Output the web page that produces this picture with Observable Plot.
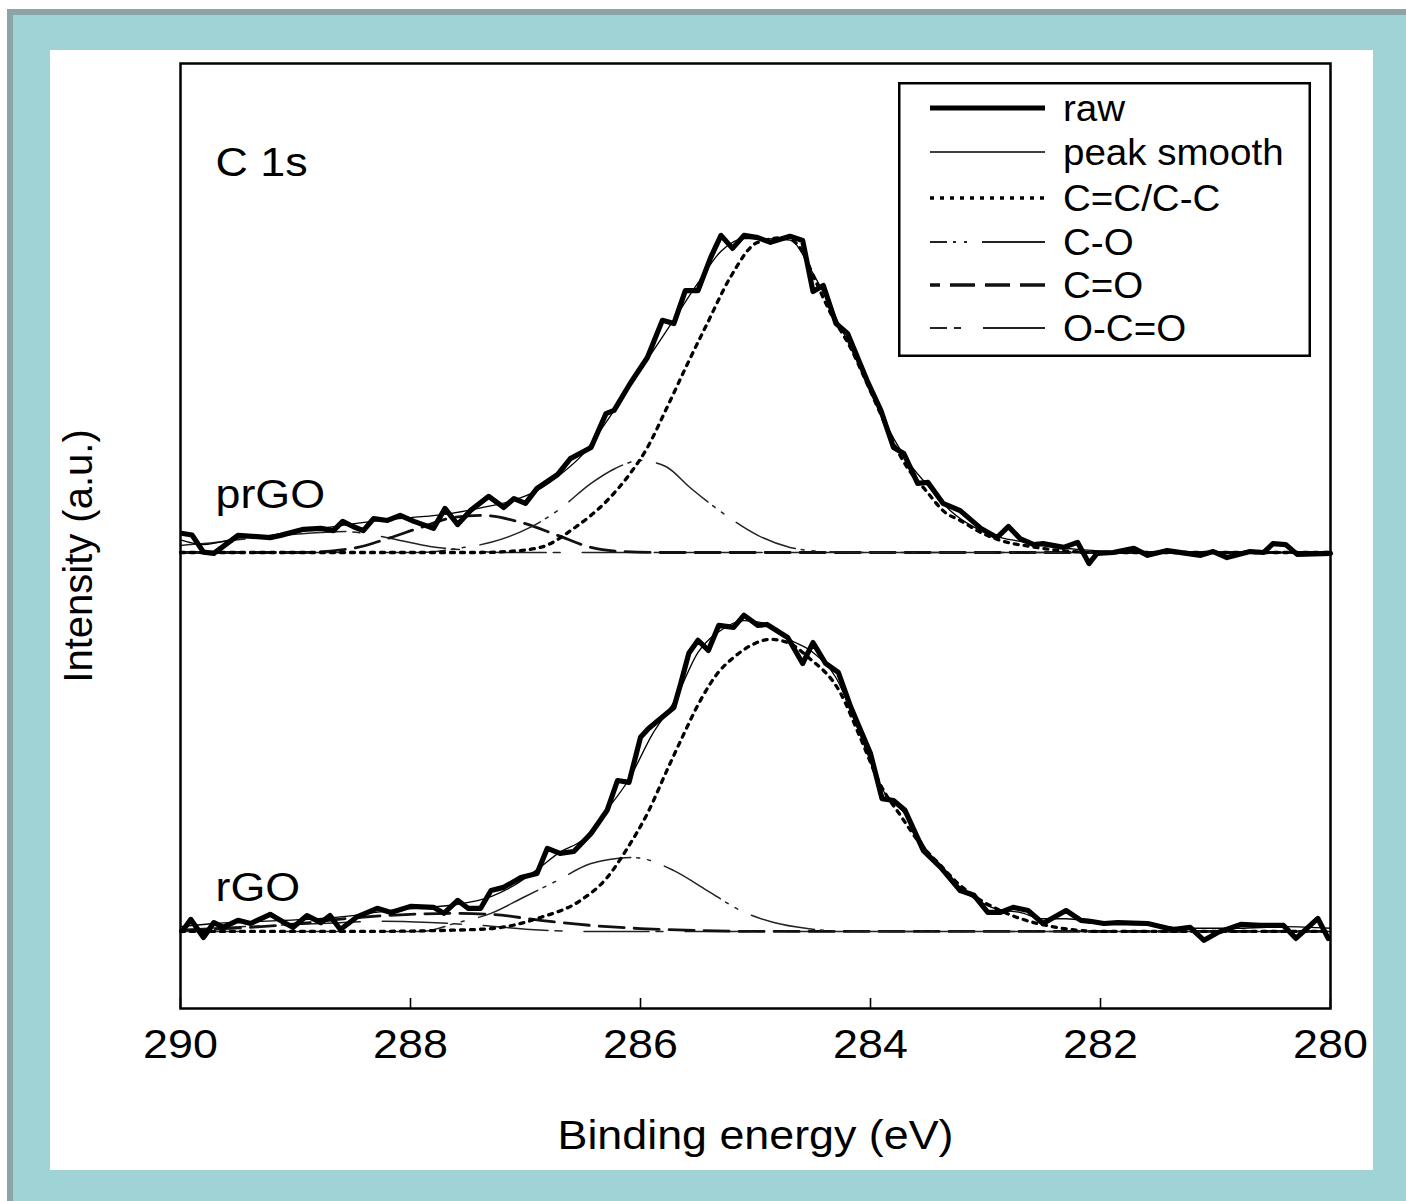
<!DOCTYPE html>
<html><head><meta charset="utf-8">
<script src="https://cdn.jsdelivr.net/npm/d3@7"></script>
<script src="https://cdn.jsdelivr.net/npm/@observablehq/plot@0.6"></script>
<style>
html,body{margin:0;padding:0;background:#fff;width:1406px;height:1201px;overflow:hidden;font-family:"Liberation Sans",Arial,Helvetica,sans-serif;}
#border{position:absolute;left:7px;top:9px;width:1420px;height:1220px;background:#a0d3d6;border-left:6px solid #8aa4a7;border-top:6px solid #8aa4a7;}
#panel{position:absolute;left:50px;top:50px;width:1323px;height:1120px;background:#fff;}
#chart{position:absolute;left:50px;top:50px;}
#legend{position:absolute;left:898px;top:82px;}
</style></head><body>
<div id="border"></div><div id="panel"></div><div id="chart"></div><div id="legend"></div>
<script>
// ---------- data: [binding energy (eV), intensity (a.u., peak ~100)] ----------
const prgoRaw = [[289.98,6.0],[289.90,5.5],[289.80,0.1],[289.71,-0.3],[289.50,5.4],[289.22,4.7],[289.13,5.4],[288.93,7.3],[288.78,7.6],[288.67,6.9],[288.59,9.8],[288.50,8.2],[288.41,6.9],[288.32,10.7],[288.20,10.1],[288.09,11.7],[287.97,9.8],[287.80,7.6],[287.70,13.9],[287.59,8.8],[287.48,13.2],[287.32,17.7],[287.19,14.2],[287.10,17.0],[287.00,15.5],[286.90,20.2],[286.72,24.6],[286.61,29.6],[286.43,33.1],[286.30,43.8],[286.23,44.8],[286.09,53.3],[285.94,61.5],[285.81,73.2],[285.71,72.2],[285.61,82.6],[285.50,82.6],[285.39,93.0],[285.30,100.0],[285.20,95.9],[285.10,100.0],[284.98,99.3],[284.87,97.8],[284.70,99.7],[284.59,98.4],[284.50,82.3],[284.41,84.2],[284.30,72.2],[284.20,69.1],[284.03,54.2],[283.91,44.8],[283.80,33.1],[283.71,31.2],[283.59,21.8],[283.50,22.1],[283.37,15.5],[283.22,13.2],[283.04,7.6],[282.90,4.7],[282.80,8.2],[282.70,4.4],[282.58,2.5],[282.50,2.8],[282.32,1.6],[282.20,3.2],[282.10,-3.5],[282.03,-0.3],[281.89,0],[281.71,1.3],[281.59,-0.9],[281.42,0.6],[281.13,-0.9],[281.02,0.3],[280.90,-1.6],[280.70,0.3],[280.58,0],[280.50,2.8],[280.39,2.5],[280.29,-0.6],[280.00,-0.3]];
const prgoSmooth = [[290.0,4],[289.8,2.5],[289.5,4.5],[289.2,5.5],[288.9,7],[288.6,8.5],[288.3,10],[288.0,11],[287.7,12],[287.4,14],[287.1,16.5],[286.9,19.5],[286.7,24.5],[286.5,31],[286.3,41],[286.1,52],[285.9,63],[285.7,74],[285.5,85],[285.3,95],[285.1,99],[284.9,99],[284.7,98.5],[284.5,88],[284.3,74],[284.1,59],[283.9,43],[283.7,30],[283.5,21],[283.3,13],[283.1,8],[282.9,5],[282.7,3.5],[282.5,2.2],[282.2,1],[281.8,0.3],[281.0,0],[280.0,0]];
const prgoCC = [[290,0],[288,0],[287.39,0],[287.16,0.3],[286.87,1.6],[286.58,7.6],[286.29,16.4],[286.09,24.9],[285.94,33.1],[285.77,45.7],[285.59,59.6],[285.42,72.2],[285.22,86.7],[284.98,97.8],[284.74,99.3],[284.61,95.9],[284.48,85.8],[284.35,75.7],[284.17,64.3],[284.03,53.3],[283.91,43.5],[283.78,33.1],[283.65,25.2],[283.52,19.6],[283.35,12.6],[283.22,10.1],[283.04,6.3],[282.87,3.8],[282.61,1.9],[282.35,0.6],[282.0,0],[280,0]];
const prgoCO = [[290,0],[287.91,0],[287.59,1.3],[287.30,3.2],[286.96,7.9],[286.72,13.2],[286.43,21.8],[286.22,26.5],[286.00,29.0],[285.78,27.1],[285.57,20.5],[285.28,12.3],[284.98,5.4],[284.70,1.6],[284.41,0.3],[284.09,0],[280,0]];
const prgoC_O = [[290,0],[288.96,0],[288.46,1.6],[288.20,4.4],[287.91,7.9],[287.63,11.0],[287.39,11.7],[287.04,9.5],[286.72,5.4],[286.43,1.6],[286.15,0.3],[285.83,0],[280,0]];
const prgoOCO = [[290.0,2.2],[289.80,2.8],[289.48,4.1],[289.13,5.4],[288.78,6.3],[288.57,6.6],[288.35,5.7],[288.09,3.8],[287.83,1.9],[287.57,0.9],[287.22,0],[280,0]];

const rgoRaw = [[289.98,0.3],[289.91,3.8],[289.80,-1.9],[289.71,2.8],[289.63,1.3],[289.50,3.5],[289.39,2.5],[289.22,5.4],[289.10,2.8],[289.02,1.3],[288.90,5.0],[288.78,2.8],[288.70,5.0],[288.61,0.6],[288.46,4.7],[288.29,7.3],[288.17,6.0],[288.00,7.9],[287.80,7.6],[287.71,5.7],[287.59,9.8],[287.50,7.3],[287.39,7.3],[287.30,12.9],[287.19,13.9],[287.04,17.0],[286.90,18.3],[286.81,26.2],[286.70,24.6],[286.58,25.2],[286.43,30.9],[286.29,38.2],[286.20,47.6],[286.10,47.0],[286.00,61.2],[285.93,64.0],[285.71,70.6],[285.65,78.2],[285.58,87.7],[285.50,91.8],[285.41,88.6],[285.32,96.5],[285.19,95.9],[285.10,99.7],[284.98,96.5],[284.90,96.8],[284.72,92.7],[284.59,84.5],[284.50,91.1],[284.39,84.5],[284.28,81.7],[284.17,70.6],[284.06,61.2],[284.00,56.1],[283.90,41.9],[283.80,41.3],[283.70,38.2],[283.54,25.5],[283.39,20.2],[283.22,12.9],[283.10,11.4],[282.98,6.0],[282.87,6.0],[282.76,7.6],[282.63,6.6],[282.50,2.5],[282.30,6.6],[282.17,3.5],[282.09,3.2],[281.97,2.5],[281.85,2.8],[281.59,2.5],[281.37,0.6],[281.22,1.3],[281.10,-2.8],[280.98,-0.3],[280.78,2.2],[280.61,1.9],[280.41,1.9],[280.30,-2.2],[280.11,4.1],[280.02,-2.2]];
const rgoSmooth = [[290.0,1.5],[289.7,2.5],[289.4,3],[289.1,3.5],[288.8,4],[288.5,5],[288.2,6.5],[287.9,7.5],[287.6,8.5],[287.3,11],[287.1,14.5],[286.9,19.5],[286.7,25],[286.5,29],[286.3,38],[286.1,48],[285.9,62],[285.7,73],[285.5,88],[285.3,95],[285.1,98],[284.9,97],[284.7,92],[284.5,88],[284.3,80],[284.1,63],[283.9,45],[283.7,37],[283.5,25],[283.3,16],[283.1,10.5],[282.9,7],[282.7,6],[282.5,4],[282.3,4],[282.0,2.5],[281.6,2],[281.2,1],[280.8,1],[280.4,1.5],[280.0,1]];
const rgoCC = [[290,0],[288.43,0],[287.74,0.3],[287.30,0.9],[286.87,4.4],[286.52,9.8],[286.29,17.0],[286.11,26.5],[285.94,37.2],[285.77,50.8],[285.65,60.2],[285.48,72.8],[285.33,81.4],[285.19,86.4],[285.04,90.2],[284.87,92.1],[284.70,90.8],[284.55,86.7],[284.26,75.1],[284.09,61.2],[283.91,46.0],[283.74,36.6],[283.57,27.8],[283.39,20.8],[283.22,14.5],[283.04,9.8],[282.87,6.6],[282.70,4.1],[282.43,1.6],[282.0,0],[280,0]];
const rgoCO = [[290,0],[287.91,0],[287.59,2.8],[287.30,5.7],[287.02,10.7],[286.72,16.1],[286.43,21.4],[286.06,23.3],[285.71,19.2],[285.42,12.9],[285.13,6.6],[284.84,2.8],[284.55,0.9],[284.17,0],[280,0]];
const rgoC_O = [[290.0,0.3],[289.39,1.3],[288.96,2.5],[288.46,4.4],[288.00,5.4],[287.65,5.7],[287.30,5.4],[286.87,3.5],[286.43,1.9],[286.00,0.9],[285.48,0.3],[284.96,0],[280,0]];
const rgoOCO = [[290.0,0.6],[289.39,1.6],[288.78,2.5],[288.26,3.2],[287.83,2.8],[287.39,1.9],[286.96,0.6],[286.52,0],[280,0]];

const sampleNames = ["prGO", "rGO"];
const sampleOffsets = [119.5, 0];
const xTicks = [290, 288, 286, 284, 282, 280];
const legendLabels = ["raw", "peak smooth", "C=C/C-C", "C-O", "C=O", "O-C=O"];
const panelTitle = "C 1s";
const xLabel = "Binding energy (eV)";
const yLabel = "Intensity (a.u.)";

// ---------- layout & styles ----------
const W = 1323, H = 1120;
const M = {left: 130, right: 43, top: 13, bottom: 162};
const xDomain = [290, 280];
const yDomain = [-24.3, 273.7];
const pxPerUnit = (H - M.top - M.bottom) / (yDomain[1] - yDomain[0]);
const tickLen = 10 / pxPerUnit;
const FONT = "'Liberation Sans', Arial, Helvetica, sans-serif";

const st = {
  raw:    {stroke: "#000", strokeWidth: 5.2, strokeLinejoin: "round"},
  smooth: {stroke: "#000", strokeWidth: 1.3},
  cc:     {stroke: "#000", strokeWidth: 3.3, strokeDasharray: "4,6"},
  co:     {stroke: "#222", strokeWidth: 1.5, strokeDasharray: "65,6,3,8,3,15"},
  c_o:    {stroke: "#111", strokeWidth: 2.8, strokeDasharray: "25,10"},
  oco:    {stroke: "#222", strokeWidth: 1.5, strokeDasharray: "65,7,7,22"}
};
const legendKeys = ["raw", "smooth", "cc", "co", "c_o", "oco"];
const legendDashOffset = {raw: 0, smooth: 0, cc: 0, co: 48, c_o: 15, oco: 48};

function ln(pairs, off, s, curve) {
  return Plot.line(pairs, {x: d => d[0], y: d => d[1] + off, curve, ...s});
}
const sets = [
  {raw: prgoRaw, smooth: prgoSmooth, cc: prgoCC, co: prgoCO, c_o: prgoC_O, oco: prgoOCO},
  {raw: rgoRaw, smooth: rgoSmooth, cc: rgoCC, co: rgoCO, c_o: rgoC_O, oco: rgoOCO}
];
const marks = [];
sets.forEach((s, i) => {
  const off = sampleOffsets[i];
  marks.push(ln(s.oco, off, st.oco, "monotone-x"));
  marks.push(ln(s.c_o, off, st.c_o, "monotone-x"));
  marks.push(ln(s.co, off, st.co, "monotone-x"));
  marks.push(ln(s.cc, off, st.cc, "monotone-x"));
  marks.push(ln(s.smooth, off, st.smooth, "monotone-x"));
  marks.push(ln(s.raw, off, st.raw, "linear"));
});

const chart = Plot.plot({
  width: W, height: H,
  marginLeft: M.left, marginRight: M.right, marginTop: M.top, marginBottom: M.bottom,
  style: {background: "transparent", fontFamily: FONT, color: "#000", overflow: "visible"},
  x: {domain: xDomain},
  y: {domain: yDomain, axis: null},
  marks: [
    ...marks,
    Plot.ruleX(xTicks, {x: d => d, y1: yDomain[0], y2: yDomain[0] + tickLen, stroke: "#000", strokeWidth: 1.6}),
    Plot.frame({stroke: "#000", strokeWidth: 2.5}),
    Plot.axisX({ticks: xTicks, tickFormat: d => String(d), tickSize: 0, tickPadding: 21, fontSize: 40, label: null}),
    Plot.text([panelTitle], {text: d => d, frameAnchor: "top-left", dx: 35, dy: 112, textAnchor: "start", lineAnchor: "bottom", fontSize: 40}),
    Plot.text([sampleNames[0]], {text: d => d, frameAnchor: "top-left", dx: 35, dy: 444, textAnchor: "start", lineAnchor: "bottom", fontSize: 40}),
    Plot.text([sampleNames[1]], {text: d => d, frameAnchor: "top-left", dx: 35, dy: 837, textAnchor: "start", lineAnchor: "bottom", fontSize: 40}),
    Plot.text([xLabel], {text: d => d, frameAnchor: "bottom", dy: 140, textAnchor: "middle", lineAnchor: "bottom", fontSize: 40}),
    Plot.text([yLabel], {text: d => d, frameAnchor: "left", dx: -101, dy: 20, rotate: -90, textAnchor: "middle", lineAnchor: "middle", fontSize: 40})
  ]
});
document.getElementById("chart").appendChild(chart);

function stretch(root, factor) {
  root.querySelectorAll("text").forEach(t => {
    const tr = t.getAttribute("transform") || "";
    if (tr.includes("rotate")) return;
    const w = t.getComputedTextLength();
    if (w > 0) {
      t.setAttribute("textLength", (w * factor).toFixed(1));
      t.setAttribute("lengthAdjust", "spacingAndGlyphs");
    }
  });
}
stretch(chart, 1.12);

// ---------- legend ----------
const lineYs = [26, 70, 116, 160, 203, 246];
const lg = d3.create("svg").attr("width", 413).attr("height", 275)
  .style("font-family", FONT).style("overflow", "visible");
lg.append("rect").attr("x", 1.25).attr("y", 1.25).attr("width", 410.5).attr("height", 272.5)
  .attr("fill", "#fff").attr("stroke", "#000").attr("stroke-width", 2.5);
legendLabels.forEach((lab, i) => {
  const k = legendKeys[i], s = st[k];
  const y = lineYs[i];
  lg.append("line").attr("x1", 32).attr("x2", 147).attr("y1", y).attr("y2", y)
    .attr("stroke", s.stroke).attr("stroke-width", k === "raw" ? 5 : (k === "co" || k === "oco") ? 2 : k === "c_o" ? 3.5 : s.strokeWidth)
    .attr("stroke-dasharray", s.strokeDasharray || null)
    .attr("stroke-dashoffset", legendDashOffset[k]);
  lg.append("text").attr("x", 165).attr("y", y + 13).attr("font-size", 36).attr("fill", "#000").text(lab);
});
document.getElementById("legend").appendChild(lg.node());
stretch(lg.node(), 1.07);
</script></body></html>
